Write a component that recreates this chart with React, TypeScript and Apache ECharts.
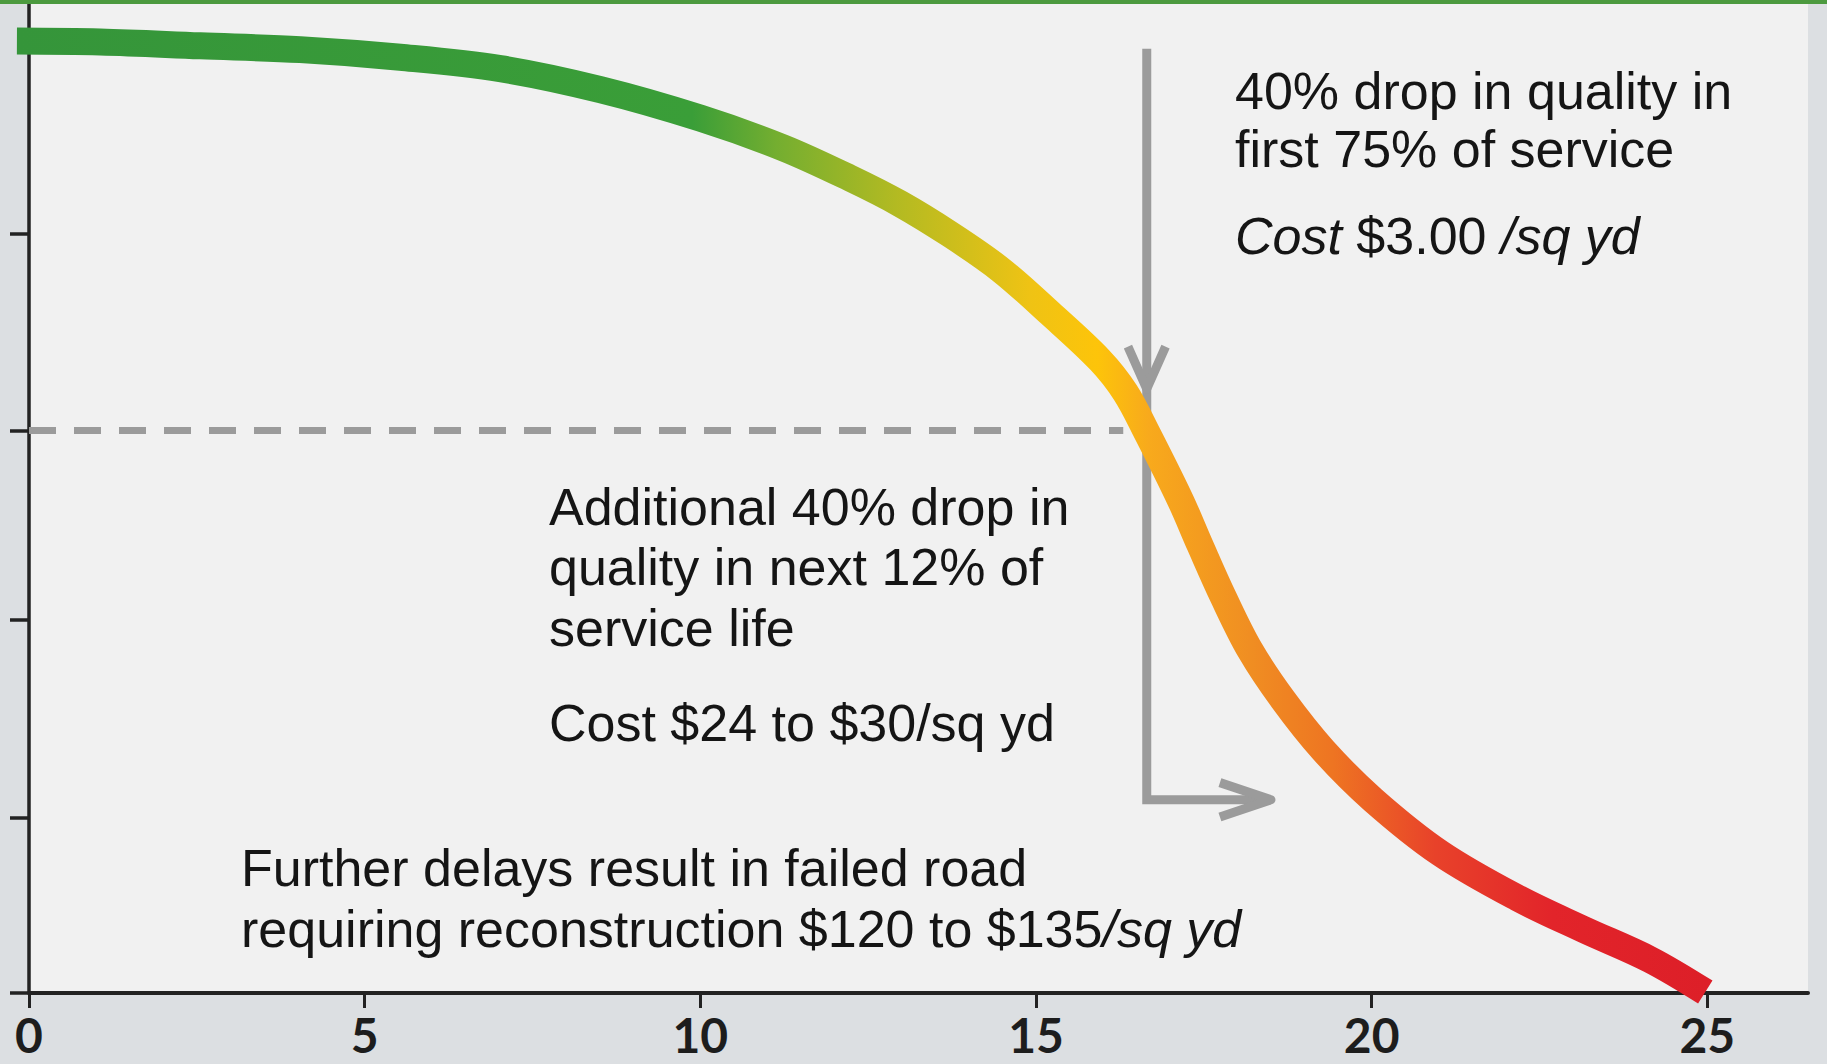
import React, { useEffect, useRef } from "react";
import * as echarts from "echarts";

// ---- data ----
const xTicks = [0, 5, 10, 15, 20, 25];
const yTicks = [0, 18.4, 39.2, 59.1, 79.8];
const serviceYears = [
  -0.18, 1.06, 2.55, 4.04, 5.53, 7.02, 8.51, 10.0, 11.23, 12.23, 12.98, 13.72, 14.47, 15.21, 15.95,
  16.33, 16.65, 17.15, 17.44, 17.79, 18.19, 18.68, 19.28, 20.02, 21.02, 22.17, 23.15, 24.15, 24.97,
];
const quality = [
  100, 99.9, 99.5, 99.1, 98.3, 97.1, 94.9, 91.9, 88.8, 85.6, 82.9, 79.7, 76.0, 71.4, 66.5,
  63.1, 58.9, 51.8, 47.1, 41.6, 36.0, 30.8, 25.5, 20.3, 14.7, 10.0, 6.7, 3.5, 0.1,
];
const thresholdX = [0, 16.3];
const thresholdY = [59.1, 59.1];
const pointerX = [16.65, 16.65, 18.5];
const pointerY = [99.2, 20.3, 20.3];
const downHeadX = [16.37, 16.65, 16.93];
const downHeadY = [67.9, 63.45, 67.9];
const rightHeadX = [17.74, 18.5, 17.74];
const rightHeadY = [22.1, 20.3, 18.5];

const note1 = ["40% drop in quality in", "first 75% of service", "{i|Cost} $3.00 {i|/sq yd}"];
const note2 = ["Additional 40% drop in", "quality in next 12% of", "service life", "Cost $24 to $30/sq yd"];
const note3 = ["Further delays result in failed road", "requiring reconstruction $120 to $135{i|/sq yd}"];

const zip = (xs: number[], ys: number[]) => xs.map((x, i) => [x, ys[i]]);

const TEXT_FONT = "'Liberation Sans', Arial, sans-serif";
const TEXT_COLOR = "#151515";
const GRAY = "#9b9b9b";

function textLines(lines: string[], x: number, ys: number[]) {
  return lines.map((t, i) => ({
    type: "text",
    x,
    y: ys[i],
    z: 10,
    silent: true,
    style: {
      text: t,
      fontSize: 52,
      fontFamily: TEXT_FONT,
      fill: TEXT_COLOR,
      align: "left",
      verticalAlign: "middle",
      rich: {
        i: { fontSize: 52, fontFamily: TEXT_FONT, fontStyle: "italic", fill: TEXT_COLOR },
      },
    },
  }));
}

export default function App() {
  const ref = useRef<HTMLDivElement>(null);
  useEffect(() => {
    document.body.style.margin = "0";
    const chart = echarts.init(ref.current!, undefined, { renderer: "svg" });
    const grayLine = (data: number[][], extra: any = {}) => ({
      type: "line",
      data,
      showSymbol: false,
      symbol: "none",
      silent: true,
      clip: false,
      z: 3,
      lineStyle: { color: GRAY, width: 9, cap: "butt", join: "round", ...extra },
    });
    chart.setOption({
      animation: false,
      backgroundColor: "#dcdfe2",
      grid: {
        left: 29,
        right: 19,
        top: 3,
        bottom: 71,
        show: true,
        backgroundColor: "#f1f1f1",
        borderWidth: 0,
      },
      xAxis: {
        type: "value",
        min: 0,
        max: 26.5,
        interval: 5,
        splitLine: { show: false },
        axisLine: { show: true, lineStyle: { color: "#222", width: 4 } },
        axisTick: { show: true, length: 15, lineStyle: { color: "#222", width: 3 }, customValues: xTicks },
        axisLabel: {
          customValues: xTicks,
          margin: 17,
          fontSize: 48,
          fontWeight: "bold",
          fontFamily: "Lato, 'Open Sans', sans-serif",
          color: "#1d1d1d",
        },
      },
      yAxis: {
        type: "value",
        min: 0,
        max: 104,
        splitLine: { show: false },
        axisLine: { show: true, lineStyle: { color: "#222", width: 3.5 } },
        axisTick: { show: true, length: 19, lineStyle: { color: "#222", width: 3.5 }, customValues: yTicks },
        axisLabel: { show: false },
      },
      graphic: [
        { type: "rect", shape: { x: 0, y: 0, width: 1827, height: 4 }, style: { fill: "#4c9a3f" }, z: 20, silent: true },
        ...textLines(note1, 1235, [91, 149, 236]),
        ...textLines(note2, 549, [507, 567, 628, 723]),
        ...textLines(note3, 241, [868, 929]),
      ],
      series: [
        grayLine(zip(thresholdX, thresholdY), { width: 7, type: [27, 18] }),
        grayLine(zip(pointerX, pointerY), { join: "miter" }),
        grayLine(zip(downHeadX, downHeadY)),
        grayLine(zip(rightHeadX, rightHeadY)),
        {
          type: "line",
          data: zip(serviceYears, quality),
          smooth: 0.35,
          showSymbol: false,
          symbol: "none",
          clip: false,
          silent: true,
          z: 5,
          lineStyle: {
            width: 27,
            cap: "butt",
            join: "round",
            color: new echarts.graphic.LinearGradient(0, 0, 1, 0, [
              { offset: 0, color: "#35953a" },
              { offset: 0.4, color: "#3a9e38" },
              { offset: 0.45, color: "#74ae30" },
              { offset: 0.52, color: "#b2ba22" },
              { offset: 0.6, color: "#efc314" },
              { offset: 0.64, color: "#fdc40a" },
              { offset: 0.67, color: "#f8aa1c" },
              { offset: 0.73, color: "#f08e22" },
              { offset: 0.78, color: "#ee7422" },
              { offset: 0.84, color: "#e8422a" },
              { offset: 0.91, color: "#e2242a" },
              { offset: 1, color: "#dd1f28" },
            ]),
          },
        },
      ],
    });
    return () => chart.dispose();
  }, []);
  return <div ref={ref} style={{ position: "fixed", left: 0, top: 0, width: 1827, height: 1064 }} />;
}
